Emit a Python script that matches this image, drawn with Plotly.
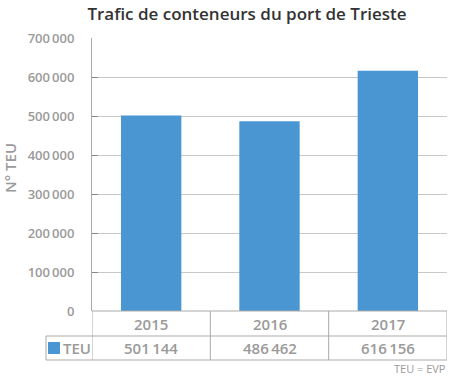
import plotly.graph_objects as go

years = ["2015", "2016", "2017"]
teu = [501144, 486462, 616156]
series_name = "TEU"
y_ticks = [0, 100000, 200000, 300000, 400000, 500000, 600000, 700000]
title = "Trafic de conteneurs du port de Trieste"
y_title = "N° TEU"
footnote = "TEU = EVP"

BLUE = "#4a96d2"
GRAY = "#9a9a9a"
LINE = "#aaaaaa"
FONT = "Open Sans"

def fmt(v):
    return f"{v:,}".replace(",", "\u2009")

fig = go.Figure()
fig.add_trace(go.Bar(x=list(range(len(years))), y=teu, marker_color=BLUE,
                     marker_line_width=0, width=0.51, name=series_name,
                     showlegend=False, hoverinfo="skip"))

L, R, T, B = 92, 3, 38, 65
W, H = 450, 376
pw, ph = W - L - R, H - T - B

def px_x(p):  # pixel -> paper x
    return (p - L) / pw

def px_y(p):  # pixel -> paper y
    return (H - B - p) / ph

shapes = []
row1 = px_y(336)
row2 = px_y(360)
left_lab = px_x(46)
line = dict(color=LINE, width=1)
shapes.append(dict(type="line", xref="x", yref="paper", x0=-0.5, x1=len(years) - 0.5, y0=0, y1=0, line=line))
shapes.append(dict(type="line", xref="paper", yref="paper", x0=left_lab, x1=1, y0=row1, y1=row1, line=line))
shapes.append(dict(type="line", xref="paper", yref="paper", x0=left_lab, x1=1, y0=row2, y1=row2, line=line))
for i in range(len(years) + 1):
    shapes.append(dict(type="line", xref="x", yref="paper", x0=i - 0.5, x1=i - 0.5, y0=0, y1=row2, line=line))
shapes.append(dict(type="line", xref="paper", yref="paper", x0=left_lab, x1=left_lab, y0=row1, y1=row2, line=line))
shapes.append(dict(type="rect", xref="paper", yref="paper", x0=px_x(48), x1=px_x(60),
                   y0=px_y(354), y1=px_y(342), fillcolor=BLUE, line=dict(width=0)))

ann = []
for i, (yr, v) in enumerate(zip(years, teu)):
    ann.append(dict(x=i, y=(0 + row1) / 2, xref="x", yref="paper", text=yr, showarrow=False,
                    font=dict(family=FONT, size=15, color=GRAY, weight=600), yanchor="middle"))
    ann.append(dict(x=i, y=(row1 + row2) / 2, xref="x", yref="paper", text=fmt(v), showarrow=False,
                    font=dict(family=FONT, size=15, color=GRAY, weight=600), yanchor="middle"))
ann.append(dict(x=px_x(61), y=(row1 + row2) / 2, xref="paper", yref="paper", text=series_name,
                showarrow=False, xanchor="left", yanchor="middle",
                font=dict(family=FONT, size=15, color=GRAY, weight=600)))
ann.append(dict(x=px_x(10), y=px_y(168), xref="paper", yref="paper", text=y_title, textangle=-90,
                showarrow=False, xanchor="center", yanchor="middle",
                font=dict(family=FONT, size=15, color=GRAY, weight=600)))
ann.append(dict(x=1, y=px_y(368), xref="paper", yref="paper", text=footnote, showarrow=False,
                xanchor="right", yanchor="middle", borderpad=0,
                font=dict(family=FONT, size=11, color=GRAY)))

fig.update_layout(
    width=W, height=H,
    margin=dict(l=L, r=R, t=T, b=B),
    paper_bgcolor="white", plot_bgcolor="white",
    title=dict(text=title, x=247 / W, xanchor="center", xref="container",
               y=1 - 14 / H, yanchor="middle", yref="container",
               font=dict(family=FONT, size=17, color="#333333", weight=600)),
    xaxis=dict(range=[-0.5, len(years) - 0.5], showticklabels=False, showgrid=False,
               zeroline=False, showline=False, ticks=""),
    yaxis=dict(range=[0, 700000], tickvals=y_ticks, ticktext=[fmt(v) for v in y_ticks],
               showgrid=True, gridcolor="#c8c8c8", gridwidth=1, zeroline=False,
               showline=True, linecolor=LINE, linewidth=1,
               ticks="inside", ticklen=6, tickcolor="#888888",
               tickfont=dict(family=FONT, size=13, color=GRAY, weight=600),
               ticklabelstandoff=14),
    shapes=shapes, annotations=ann,
)

fig.write_html("out.html", config={"displayModeBar": False},
               post_script="document.body.style.margin='0';")
